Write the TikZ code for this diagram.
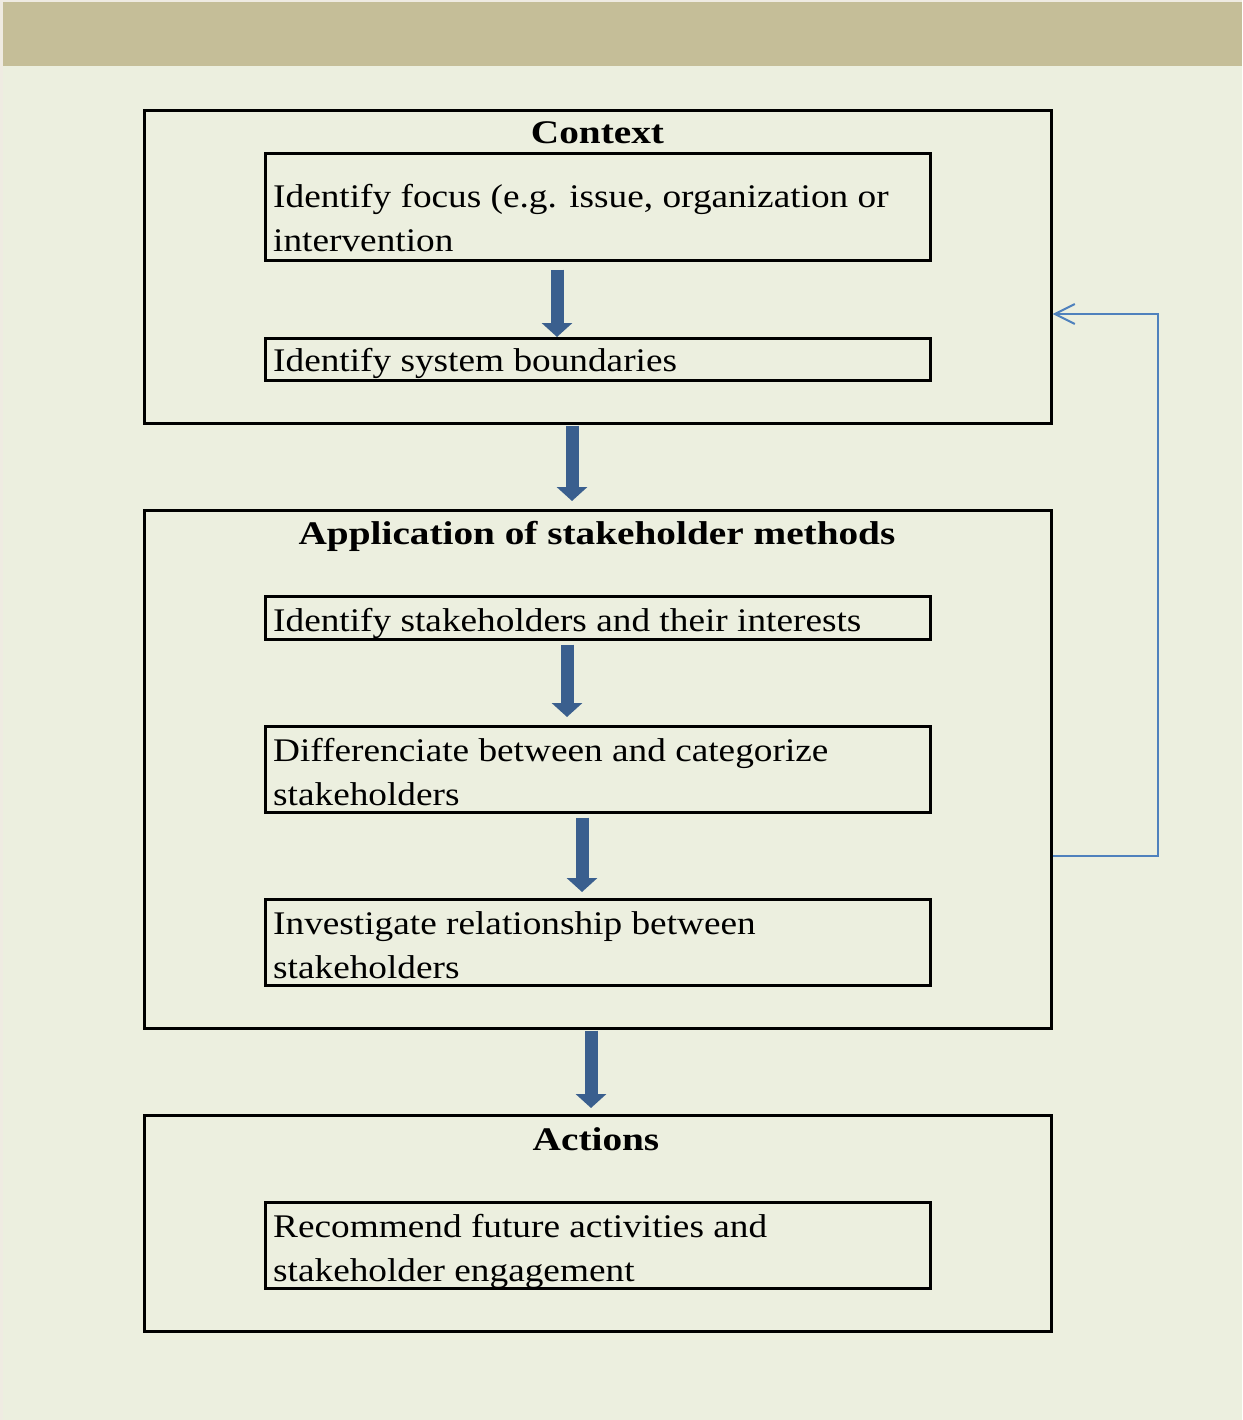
\documentclass[tikz,border=0pt]{standalone}
\usepackage{fontspec}
\setmainfont{Liberation Serif}
\usetikzlibrary{arrows.meta,calc}
\definecolor{bgc}{HTML}{ECEFDF}
\definecolor{band}{HTML}{C5BE98}
\definecolor{edgec}{HTML}{EFEBE2}
\definecolor{arr}{HTML}{3A5F8E}
\definecolor{fbc}{HTML}{4F81BD}
\newcommand\stx[1]{\scalebox{1.13}[1]{\begin{tabular}[t]{@{}l@{}}#1\end{tabular}}}
\newcommand\sth[1]{\scalebox{1.19}[1]{#1}}
\begin{document}
\begin{tikzpicture}[x=1pt,y=-1pt,
  outerbox/.style={draw=black,line width=2.6pt,anchor=north west,inner sep=0pt,minimum width=907pt},
  innerbox/.style={draw=black,line width=2.6pt,anchor=north west,inner sep=0pt,minimum width=665pt},
  txt/.style={anchor=base west,inner sep=0pt,font=\fontsize{33}{44}\selectfont},
  head/.style={anchor=base,inner sep=0pt,font=\fontsize{33}{44}\selectfont\bfseries},
  bigarrow/.style={arr,line width=13pt,-{Triangle[width=30pt,length=14pt]}},
  feedback/.style={fbc,line width=2pt,-{Straight Barb[length=20pt,width=20pt]}}]
\useasboundingbox (0,0) rectangle (1242,1420);
\fill[edgec] (0,0) rectangle (1242,1420);
\fill[bgc] (3,2) rectangle (1242,1420);
\fill[band] (3,2) rectangle (1242,66);

% outer boxes
\node[outerbox,minimum height=313pt] (o1) at (143,109) {};
\node[outerbox,minimum height=518pt] (o2) at (143,509) {};
\node[outerbox,minimum height=216pt] (o3) at (143,1114) {};

% inner boxes
\node[innerbox,minimum height=107pt] (f) at (264,152) {};
\node[innerbox,minimum height=42pt] (b) at (264,337) {};
\node[innerbox,minimum height=43pt] (s) at (264,595) {};
\node[innerbox,minimum height=86pt] (d) at (264,725) {};
\node[innerbox,minimum height=86pt] (i) at (264,898) {};
\node[innerbox,minimum height=86pt] (r) at (264,1201) {};

% headings
\node[head] (h1) at (597.5,144) {\sth{Context}};
\node[head] (h2) at (597,544) {\sth{Application of stakeholder methods}};
\node[head] (h3) at (596,1150) {\sth{Actions}};

% texts
\node[txt] (tf) at (273,208) {\stx{Identify focus (e.g. issue, organization or\\intervention}};
\node[txt] (tb) at (273,371) {\stx{Identify system boundaries}};
\node[txt] (ts) at (273,631) {\stx{Identify stakeholders and their interests}};
\node[txt] (td) at (273,761) {\stx{Differenciate between and categorize\\stakeholders}};
\node[txt] (ti) at (273,934) {\stx{Investigate relationship between\\stakeholders}};
\node[txt] (tr) at (273,1237) {\stx{Recommend future activities and\\stakeholder engagement}};

% arrow x positions
\coordinate (x1) at (557,0);
\coordinate (x2) at (572,0);
\coordinate (x3) at (567,0);
\coordinate (x4) at (582,0);
\coordinate (x5) at (591,0);

\draw[bigarrow] ($(f.south -| x1)+(0,8)$) -- (b.north -| x1);
\draw[bigarrow] ($(o1.south -| x2)+(0,1)$) -- ($(o2.north -| x2)+(0,-8)$);
\draw[bigarrow] ($(s.south -| x3)+(0,4)$) -- ($(d.north -| x3)+(0,-8)$);
\draw[bigarrow] ($(d.south -| x4)+(0,4)$) -- ($(i.north -| x4)+(0,-6)$);
\draw[bigarrow] ($(o2.south -| x5)+(0,1)$) -- ($(o3.north -| x5)+(0,-6)$);

% feedback loop
\coordinate (fb1) at (1158,856);
\coordinate (fb2) at (1158,314);
\draw[feedback] (fb1 -| o2.east) -- (fb1) -- (fb2) -- (fb2 -| o1.east);
\end{tikzpicture}
\end{document}
